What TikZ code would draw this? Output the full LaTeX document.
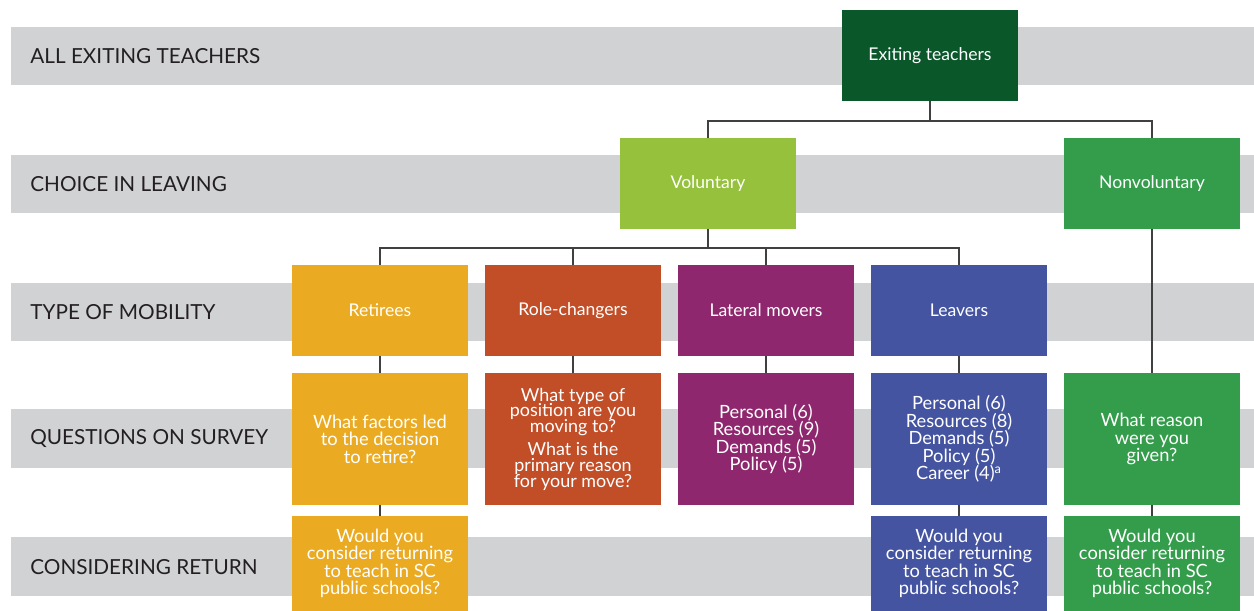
\documentclass[tikz,border=0pt]{standalone}
\usepackage{fontspec}
\setmainfont{Lato}
\usetikzlibrary{positioning}

\definecolor{bandgray}{HTML}{D1D2D4}
\definecolor{labelink}{HTML}{231F20}
\definecolor{linkgray}{HTML}{3F4040}
\definecolor{exitgreen}{HTML}{0A572A}
\definecolor{volgreen}{HTML}{95C13D}
\definecolor{nonvolgreen}{HTML}{349D4B}
\definecolor{retgold}{HTML}{EAAA22}
\definecolor{rolerust}{HTML}{C24E28}
\definecolor{latplum}{HTML}{8F276E}
\definecolor{leavblue}{HTML}{4454A0}

\newcommand{\tightlines}{\fontsize{10.2}{9}\selectfont\lineskiplimit=-10pt\relax}

\tikzset{
  band/.style={fill=bandgray, draw=none},
  rowlabel/.style={anchor=west, text=labelink, inner sep=0pt, font=\fontsize{11.8}{13}\selectfont},
  box/.style={minimum width=3.52cm, minimum height=1.82cm, text=white, align=center, inner sep=0pt, font=\fontsize{10}{9.9}\selectfont},
  qbox/.style={box, minimum height=2.64cm, font=\fontsize{10.4}{9.9}\selectfont},
  rbox/.style={box, minimum height=1.9cm, font=\fontsize{10.4}{9.9}\selectfont},
  link/.style={draw=linkgray, line width=0.8pt},
}

\begin{document}
\begin{tikzpicture}[x=0.02cm, y=-0.02cm]
\useasboundingbox (0,0) rectangle (1254,611);

% grey rows
\foreach \top/\bot in {27/85, 155/213, 283/341, 409/468, 537/596}{
\path[band] (11,\top) rectangle (1254,\bot);
}
\node[rowlabel] (lblall) at (30,56) {ALL EXITING TEACHERS};
\node[rowlabel] (lblchoice) at (30,184) {CHOICE IN LEAVING};
\node[rowlabel] (lbltype) at (30,312) {TYPE OF MOBILITY};
\node[rowlabel] (lblquest) at (30,439) {QUESTIONS ON SURVEY};
\node[rowlabel] (lblreturn) at (30,567) {CONSIDERING RETURN};

% top two levels
\node[box, fill=exitgreen] (exit) at (930,55.5) {Exiting teachers};
\node[box, fill=volgreen] (vol) at (708,183.5) {Voluntary};
\node[box, fill=nonvolgreen] (nonvol) at (1152,183.5) {Nonvoluntary};

% type of mobility
\node[box, fill=retgold] (ret) at (380,310.5) {Retirees};
\node[box, fill=rolerust] (role) at (573,310.5) {Role-changers};
\node[box, fill=latplum] (lat) at (766,310.5) {Lateral movers};
\node[box, fill=leavblue] (leav) at (959,310.5) {Leavers};

% survey questions
\node[qbox, fill=retgold] (retq) at (380,439) {What factors led\\to the decision\\to retire?};
\node[qbox, fill=rolerust, font=\tightlines] (roleq) at (573,439)
  {What type of\\position are you\\moving to?\\[4pt]What is the\\primary reason\\for your move?};
\node[qbox, fill=latplum] (latq) at (766,439) {Personal (6)\\Resources (9)\\Demands (5)\\Policy (5)};
\node[qbox, fill=leavblue] (leavq) at (959,439) {Personal (6)\\Resources (8)\\Demands (5)\\Policy (5)\\Career (4)\textsuperscript{a}};
\node[qbox, fill=nonvolgreen] (nonvolq) at (1152,439) {What reason\\were you\\given?};

% considering return
\node[rbox, fill=retgold] (retr) at (380,563.5) {Would you\\consider returning\\to teach in SC\\public schools?};
\node[rbox, fill=leavblue] (leavr) at (959,563.5) {Would you\\consider returning\\to teach in SC\\public schools?};
\node[rbox, fill=nonvolgreen] (nonvolr) at (1152,563.5) {Would you\\consider returning\\to teach in SC\\public schools?};

% connectors
\path[link] (exit.south) -- ++(0,19.5) coordinate (split1);
\path[link] (split1) -| (vol.north);
\path[link] (split1) -| (nonvol.north);
\path[link] (vol.south) -- ++(0,18.5) coordinate (split2);
\foreach \kid in {ret, role, lat, leav}{
\path[link] (split2) -| (\kid.north);
}
\path[link] (ret) -- (retq);
\path[link] (role) -- (roleq);
\path[link] (lat) -- (latq);
\path[link] (leav) -- (leavq);
\path[link] (nonvol) -- (nonvolq);
\path[link] (retq) -- (retr);
\path[link] (leavq) -- (leavr);
\path[link] (nonvolq) -- (nonvolr);
\end{tikzpicture}
\end{document}
